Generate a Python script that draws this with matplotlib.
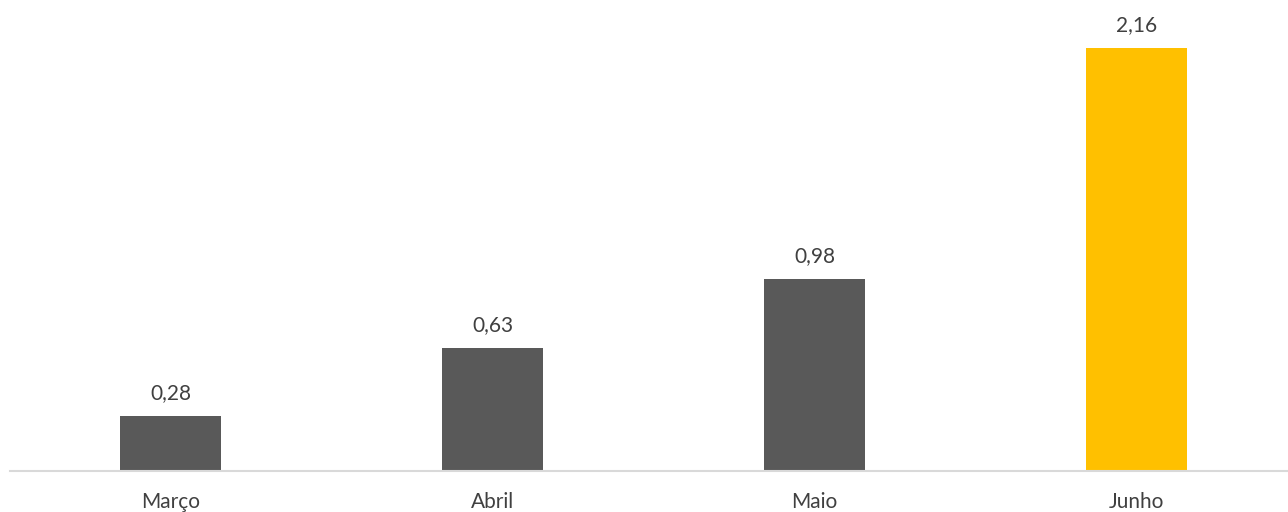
import matplotlib
matplotlib.use('Agg')
import matplotlib.pyplot as plt

meses = ['Março', 'Abril', 'Maio', 'Junho']
valores = [0.28, 0.63, 0.98, 2.16]
cores = ['#595959', '#595959', '#595959', '#FFC000']

plt.rcParams['font.family'] = ['Lato', 'DejaVu Sans']

fig = plt.figure(figsize=(12.88, 5.12), dpi=100)
# eixo um pouco mais largo que a figura, como no original
ax = fig.add_axes([9.6 / 1288, 41 / 512, 1288 / 1288, 470 / 512])

x = range(len(meses))
bars = ax.bar(x, valores, width=0.314, color=cores)

for b, v in zip(bars, valores):
    ax.annotate(f'{v:.2f}'.replace('.', ','),
                (b.get_x() + b.get_width() / 2, b.get_height()),
                xytext=(0, 12), textcoords='offset points',
                ha='center', va='baseline', fontsize=15, color='#404040')

ax.set_xlim(-0.5, 3.5)
ax.set_ylim(0, 2.4)
ax.set_xticks(list(x))
ax.set_xticklabels(meses, fontsize=15, color='#404040')
ax.tick_params(axis='x', length=0, pad=15)
ax.set_yticks([])
for s in ['top', 'left', 'right']:
    ax.spines[s].set_visible(False)
ax.spines['bottom'].set_color('#d9d9d9')
ax.spines['bottom'].set_linewidth(1.5)

fig.savefig('out.png', dpi=100)
